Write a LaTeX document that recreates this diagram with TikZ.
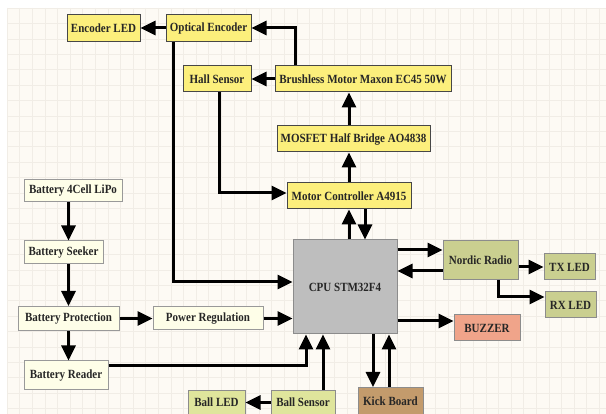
\documentclass[tikz,border=0pt]{standalone}
\usepackage{fontspec}
\setmainfont[FakeStretch=0.88]{Liberation Serif}
\usepackage{tikz}
\usepackage{xcolor}
\usetikzlibrary{positioning}
\usetikzlibrary{arrows.meta}

\definecolor{paper}{HTML}{FDFAF4}
\definecolor{gridcol}{HTML}{F1EDE6}
\definecolor{yellowbox}{HTML}{FCEF7C}
\definecolor{creambox}{HTML}{FEFEE8}
\definecolor{cpugray}{HTML}{BEBEBE}
\definecolor{olivebox}{HTML}{CACF90}
\definecolor{ballbox}{HTML}{DFE59C}
\definecolor{kickbox}{HTML}{C39B6C}
\definecolor{buzzbox}{HTML}{F0A48A}
\definecolor{inkcol}{HTML}{262626}

\tikzset{
  blockbox/.style={draw=inkcol!85, line width=1pt, inner sep=0pt, align=center,
    text=inkcol, font=\fontsize{12.5}{14}\selectfont\bfseries},
  motorbox/.style={blockbox, fill=yellowbox},
  powerbox/.style={blockbox, fill=creambox, draw=gray!80},
  cpubox/.style={blockbox, fill=cpugray, draw=gray!90},
  radiobox/.style={blockbox, fill=olivebox, draw=gray!90},
  ballbox/.style={blockbox, fill=ballbox, draw=gray!90},
  gridline/.style={draw=gridcol, line width=0.5pt},
  arr/.style={line width=3pt, -{Triangle[length=15pt,width=14pt]}}
}

\begin{document}
\begin{tikzpicture}[x=1pt,y=-1pt]
\useasboundingbox (0,0) rectangle (606,414);
\fill[white] (0,0) rectangle (606,414);
\fill[paper] (7,8) rectangle (606,414);
\foreach \gx in {0,...,47}
  \draw[gridline] ({7+\gx*12.6},8) -- ({7+\gx*12.6},414);
\foreach \gy in {0,...,26}
  \draw[gridline] (7,{8+\gy*15.4}) -- (606,{8+\gy*15.4});

% motor side
\node[motorbox, minimum width=73pt, minimum height=27pt] (encled) at (103.5,28) {Encoder LED};
\node[motorbox, minimum width=85pt, minimum height=27pt] (optenc) at (208.5,28) {Optical Encoder};
\node[motorbox, minimum width=68pt, minimum height=26pt] (hall) at (217,79) {Hall Sensor};
\node[motorbox, minimum width=176pt, minimum height=26pt] (motor) at (363,79) {Brushless Motor Maxon EC45 50W};
\node[motorbox, minimum width=153pt, minimum height=26pt] (mosfet) at (353.5,139) {MOSFET Half Bridge AO4838};
\node[motorbox, minimum width=124pt, minimum height=26pt] (mctrl) at (349,196) {Motor Controller A4915};

% power side
\node[powerbox, minimum width=98pt, minimum height=22pt] (lipo) at (73,191) {Battery 4Cell LiPo};
\node[powerbox, minimum width=79pt, minimum height=23pt] (seeker) at (63.5,252.5) {Battery Seeker};
\node[powerbox, minimum width=101pt, minimum height=24pt] (protect) at (68.5,318.5) {Battery Protection};
\node[powerbox, minimum width=110pt, minimum height=23pt] (powreg) at (208,318.5) {Power Regulation};
\node[powerbox, minimum width=84pt, minimum height=29pt] (reader) at (66,375.5) {Battery Reader};

% cpu and peripherals
\node[cpubox, minimum width=104pt, minimum height=94pt] (cpu) at (345,287) {CPU STM32F4};
\node[radiobox, minimum width=75pt, minimum height=39pt] (radio) at (480.5,260.5) {Nordic Radio};
\node[radiobox, minimum width=51pt, minimum height=26pt] (txled) at (569.5,267) {TX LED};
\node[radiobox, minimum width=51pt, minimum height=26pt] (rxled) at (570.5,305) {RX LED};
\node[blockbox, fill=buzzbox, draw=gray!90, minimum width=66pt, minimum height=26pt] (buzzer) at (487,328) {BUZZER};
\node[ballbox, minimum width=57pt, minimum height=24pt] (ballled) at (216.5,402.5) {Ball LED};
\node[ballbox, minimum width=64pt, minimum height=24pt] (ballsens) at (303,402.5) {Ball Sensor};
\node[blockbox, fill=kickbox, draw=gray!90, minimum width=65pt, minimum height=27pt] (kick) at (390.5,401) {Kick Board};

% motor arrows
\draw[arr] (optenc.west) -- (encled.east);
\draw[arr] ([xshift=-68pt]motor.north) |- (optenc.east);
\draw[arr] (motor.west) -- (hall.east);
\draw[arr] (mctrl.north |- mosfet.north) -- (mctrl.north |- motor.south);
\draw[arr] (mctrl.north) -- (mctrl.north |- mosfet.south);
\draw[arr] ([xshift=2pt]hall.south) |- ([yshift=3pt]mctrl.west);
\draw[arr] ([xshift=-35.5pt]optenc.south) |- ([yshift=5pt]cpu.west);
\draw[arr] ([xshift=4pt]cpu.north) -- (mctrl.south);
\draw[arr] ([xshift=16pt]mctrl.south) -- ([xshift=20pt]cpu.north);

% power arrows
\draw[arr] (lipo.south -| protect) -- (seeker.north -| protect);
\draw[arr] (seeker.south -| protect) -- (protect.north);
\draw[arr] (protect.south) -- (reader.north -| protect);
\draw[arr] (protect.east) -- (powreg.west);
\draw[arr] (powreg.east) -- (cpu.west |- powreg.east);
\draw[arr] ([yshift=9.5pt]reader.east) -| ([xshift=-39pt]cpu.south);

% cpu arrows
\draw[arr] ([xshift=20pt]ballsens.north) -- ([xshift=-22pt]cpu.south);
\draw[arr] (ballsens.west) -- (ballled.east);
\draw[arr] ([xshift=28pt]cpu.south) -- ([xshift=-17.5pt]kick.north);
\draw[arr] ([xshift=-1.5pt]kick.north) -- ([xshift=44pt]cpu.south);
\draw[arr] ([yshift=37pt]cpu.east) -- ([yshift=10.5pt]radio.west);
\draw[arr] ([yshift=-10.5pt]radio.west) -- ([yshift=16pt]cpu.east);
\draw[arr] (radio.east |- txled.west) -- (txled.west);
\draw[arr] ([xshift=17.5pt]radio.south) |- ([yshift=8pt]rxled.west);
\draw[arr] ([yshift=-34pt]cpu.east) -- ([yshift=7pt]buzzer.west);
\end{tikzpicture}
\end{document}
